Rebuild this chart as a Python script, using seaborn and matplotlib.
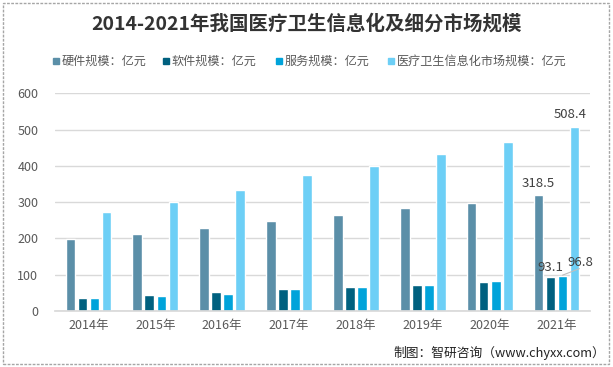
import pandas as pd
import numpy as np
import seaborn as sns
import matplotlib.pyplot as plt
from matplotlib.patches import Rectangle

years = ['2014年', '2015年', '2016年', '2017年', '2018年', '2019年', '2020年', '2021年']
hardware = [199, 212, 228, 248, 264, 283, 297, 318.5]
software = [36, 44, 52, 60.5, 66, 71.5, 80, 93.1]
service = [36, 41, 47, 60.5, 66, 71.5, 82.5, 96.8]
market = [272.5, 300, 333, 374, 399, 432, 465, 508.4]

series_names = ['硬件规模：亿元', '软件规模：亿元', '服务规模：亿元', '医疗卫生信息化市场规模：亿元']
colors = ['#5B8FA8', '#00607F', '#00A3DA', '#6DCFF6']

df = pd.DataFrame({'年份': years, series_names[0]: hardware, series_names[1]: software,
                   series_names[2]: service, series_names[3]: market})
long_df = df.melt(id_vars='年份', var_name='指标', value_name='值')

sns.set_theme(style='white')
plt.rcParams['font.family'] = ['Noto Sans CJK SC', 'DejaVu Sans']

fig = plt.figure(figsize=(6.13, 3.67), dpi=100)
ax = fig.add_axes([55 / 613, 1 - 311 / 367, 535 / 613, (311 - 93.3) / 367])

sns.barplot(data=long_df, x='年份', y='值', hue='指标', palette=colors,
            width=0.72, gap=0.2, ax=ax, legend=False, saturation=1)

ax.set_ylim(0, 600)
ax.set_yticks(range(0, 601, 100))
ax.set_xlim(-0.5, len(years) - 0.5)
ax.yaxis.grid(True, color='#D9D9D9', linewidth=1)
ax.set_axisbelow(True)
for s in ['top', 'right', 'left']:
    ax.spines[s].set_visible(False)
ax.spines['bottom'].set_color('#D9D9D9')
ax.set_xlabel('')
ax.set_ylabel('')
ax.tick_params(axis='both', length=0, labelsize=9, labelcolor='#595959')
ax.tick_params(axis='y', pad=12)
ax.tick_params(axis='x', pad=6)

# data labels for 2021
containers = ax.containers
last = len(years) - 1
hw_bar = containers[0][last]
sw_bar = containers[1][last]
sv_bar = containers[2][last]
mk_bar = containers[3][last]
lab_kw = dict(fontsize=9.5, color='#404040', ha='center', va='bottom')
ax.text(hw_bar.get_x() + hw_bar.get_width() / 2, hardware[-1] + 16, '318.5', **lab_kw)
ax.text(mk_bar.get_x() + mk_bar.get_width() / 2 - 0.06, market[-1] + 16, '508.4', **lab_kw)
ax.text(sw_bar.get_x() + sw_bar.get_width() / 2, software[-1] + 10, '93.1', **lab_kw)
ax.text(mk_bar.get_x() + mk_bar.get_width() / 2 + 0.08, service[-1] + 20, '96.8', **lab_kw)
ax.plot([sv_bar.get_x() + sv_bar.get_width() / 2, mk_bar.get_x() + mk_bar.get_width()],
        [service[-1] + 2, service[-1] + 20], color='#BFBFBF', linewidth=0.8, clip_on=False)

# title and legend
fig.text(0.5, 1 - 24 / 367, '2014-2021年我国医疗卫生信息化及细分市场规模', ha='center', va='center',
         fontsize=14, fontweight='bold', color='#333333')
legend_x = [53, 163, 276, 388]
for x, name, c in zip(legend_x, series_names, colors):
    fig.patches.append(Rectangle((x / 613, 1 - 64 / 367), 6 / 613, 6 / 367, color=c,
                                 transform=fig.transFigure, figure=fig))
    fig.text((x + 9) / 613, 1 - 61 / 367, name, ha='left', va='center', fontsize=8.7, color='#595959')

fig.text(605 / 613, 1 - 353 / 367, '制图：智研咨询（www.chyxx.com）', ha='right', va='center',
         fontsize=9.2, color='#222222')

fig.patches.append(Rectangle((3 / 613, 3 / 367), 606 / 613, 361 / 367, fill=False,
                             edgecolor='#A6A6A6', linewidth=1, linestyle=(0, (2, 1)),
                             transform=fig.transFigure, figure=fig))

fig.savefig('out.png', dpi=100)
